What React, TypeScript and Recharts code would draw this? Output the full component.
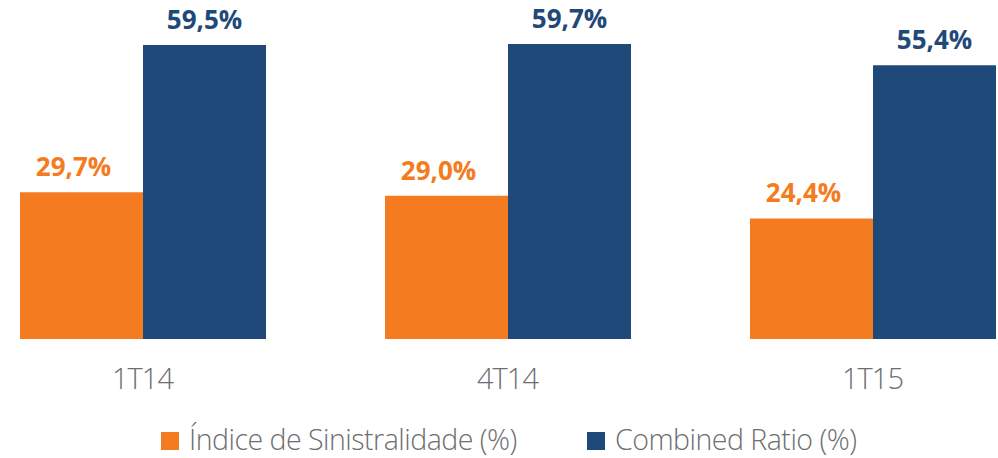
import { Bar, BarChart, LabelList, XAxis, YAxis } from "recharts";

const CATEGORIES = ["1T14", "4T14", "1T15"];
const SINISTRALIDADE = [29.7, 29.0, 24.4];
const COMBINED_RATIO = [59.5, 59.7, 55.4];

const ORANGE = "#F57B20";
const BLUE = "#1F4979";
const GREY = "#6D6E71";
const FONT = "'Open Sans', 'Noto Sans', sans-serif";

const data = CATEGORIES.map((periodo, i) => ({
  periodo,
  sinistralidade: SINISTRALIDADE[i],
  combined: COMBINED_RATIO[i],
}));

const fmt = (v: number) => v.toFixed(1).replace(".", ",") + "%";

function makeLabel(color: string, dx: number) {
  return (props: any) => {
    const vb = props.viewBox ?? {};
    const x = props.x ?? vb.x;
    const y = props.y ?? vb.y;
    const w = props.width ?? vb.width;
    return (
      <text
        x={x + w / 2 + dx}
        y={y - 16}
        textAnchor="middle"
        fill={color}
        fontFamily={FONT}
        fontWeight={700}
        fontSize={26}
      >
        {fmt(Number(props.value))}
      </text>
    );
  };
}

function Tick(props: any) {
  const { x, payload } = props;
  return (
    <text
      x={x}
      y={389}
      textAnchor="middle"
      fill={GREY}
      fontFamily={FONT}
      fontWeight={300}
      fontSize={29}
      letterSpacing={-1}
    >
      {payload.value}
    </text>
  );
}

const LEGEND = [
  { label: "Índice de Sinistralidade (%)", color: ORANGE, left: 161 },
  { label: "Combined Ratio (%)", color: BLUE, left: 587 },
];

export default function App() {
  return (
    <div
      style={{
        position: "fixed",
        left: 0,
        top: 0,
        width: 998,
        height: 458,
        overflow: "hidden",
        background: "#fff",
      }}
    >
      <div style={{ position: "absolute", left: -40, top: 0 }}>
        <BarChart
          width={1095}
          height={400}
          data={data}
          margin={{ top: 3, right: 0, bottom: 0, left: 0 }}
          barCategoryGap={60}
          barGap={0}
        >
          <XAxis
            dataKey="periodo"
            axisLine={false}
            tickLine={false}
            height={61}
            tick={<Tick />}
            interval={0}
          />
          <YAxis hide domain={[0, 68]} />
          <Bar dataKey="sinistralidade" fill={ORANGE} isAnimationActive={false}>
            <LabelList dataKey="sinistralidade" content={makeLabel(ORANGE, -8)} />
          </Bar>
          <Bar dataKey="combined" fill={BLUE} isAnimationActive={false}>
            <LabelList dataKey="combined" content={makeLabel(BLUE, 0)} />
          </Bar>
        </BarChart>
      </div>
      {LEGEND.map((item) => (
        <div
          key={item.label}
          style={{
            position: "absolute",
            left: item.left,
            top: 420,
            height: 38,
            display: "flex",
            alignItems: "center",
            fontFamily: FONT,
            fontWeight: 300,
            fontSize: 28.5,
            letterSpacing: -0.5,
            color: GREY,
            whiteSpace: "nowrap",
          }}
        >
          <span
            style={{
              display: "inline-block",
              width: 18,
              height: 18,
              background: item.color,
              marginRight: 10,
              marginTop: 4,
            }}
          />
          {item.label}
        </div>
      ))}
    </div>
  );
}
